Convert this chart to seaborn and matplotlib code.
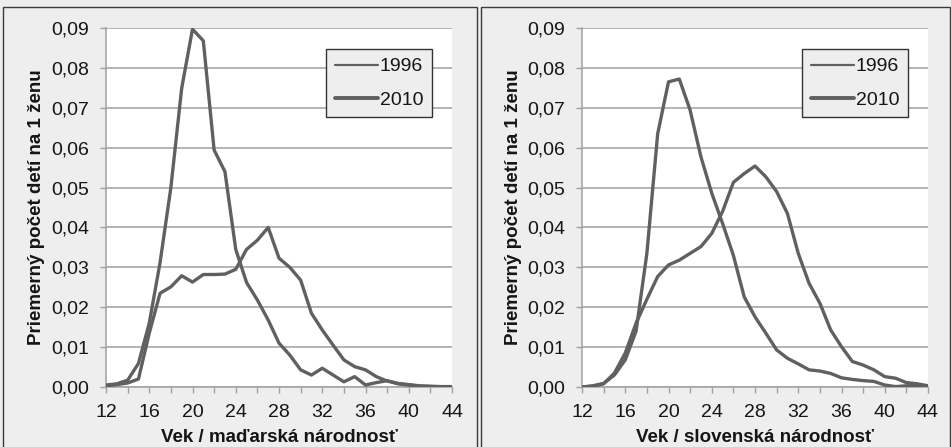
import matplotlib
matplotlib.use("Agg")
import matplotlib.pyplot as plt
from matplotlib.lines import Line2D
from matplotlib.patches import Rectangle
from matplotlib.ticker import FuncFormatter
import seaborn as sns
import pandas as pd

ages = list(range(12, 45))

hu_1996 = [0.0005, 0.0008, 0.0017, 0.0059, 0.0160, 0.0312, 0.0500, 0.0749, 0.0897, 0.0868,
           0.0594, 0.0540, 0.0345, 0.0262, 0.0218, 0.0168, 0.0110, 0.0080, 0.0043, 0.0030,
           0.0047, 0.0030, 0.0013, 0.0026, 0.0005, 0.0011, 0.0016, 0.0008, 0.0005, 0.0002,
           0.0001, 0.0000, 0.0000]
hu_2010 = [0.0003, 0.0006, 0.0010, 0.0020, 0.0135, 0.0235, 0.0251, 0.0279, 0.0263, 0.0282,
           0.0282, 0.0283, 0.0295, 0.0345, 0.0368, 0.0400, 0.0323, 0.0300, 0.0268, 0.0185,
           0.0143, 0.0105, 0.0068, 0.0051, 0.0043, 0.0026, 0.0015, 0.0009, 0.0006, 0.0003,
           0.0002, 0.0001, 0.0001]
sk_1996 = [0.0000, 0.0003, 0.0009, 0.0030, 0.0068, 0.0140, 0.0335, 0.0635, 0.0765, 0.0772,
           0.0694, 0.0577, 0.0486, 0.0410, 0.0330, 0.0226, 0.0176, 0.0135, 0.0093, 0.0072,
           0.0058, 0.0043, 0.0040, 0.0034, 0.0023, 0.0019, 0.0016, 0.0014, 0.0005, 0.0001,
           0.0003, 0.0003, 0.0002]
sk_2010 = [0.0000, 0.0002, 0.0008, 0.0035, 0.0085, 0.0160, 0.0220, 0.0277, 0.0306, 0.0318,
           0.0335, 0.0352, 0.0385, 0.0440, 0.0513, 0.0535, 0.0554, 0.0527, 0.0490, 0.0435,
           0.0335, 0.0260, 0.0210, 0.0143, 0.0101, 0.0064, 0.0055, 0.0043, 0.0026, 0.0022,
           0.0011, 0.0008, 0.0003]

years = ["1996", "2010"]
xlabels = ["Vek / maďarská národnosť", "Vek / slovenská národnosť"]
ylabel = "Priemerný počet detí na 1 ženu"

sns.set_theme(style="white")
plt.rcParams["font.family"] = ["Liberation Sans", "DejaVu Sans"]

W, H = 951, 447
PANEL_BG = "#eeeeee"
LINE = "#606060"
GRID = "#a0a0a0"
TXT = "#151515"

fig = plt.figure(figsize=(W / 100, H / 100), dpi=100)
fig.patch.set_facecolor(PANEL_BG)

def px(x0, y0, x1, y1):
    return [x0 / W, 1 - y1 / H, (x1 - x0) / W, (y1 - y0) / H]

# panel frames
for (x0, x1) in [(3, 477), (481, 950)]:
    r = Rectangle((x0 / W, -0.05), (x1 - x0) / W, 1 - 7 / H + 0.05,
                  transform=fig.transFigure, facecolor=PANEL_BG,
                  edgecolor="#3a3a3a", lw=1.0)
    r.set_zorder(-10)
    fig.add_artist(r)

datasets = [(hu_1996, hu_2010), (sk_1996, sk_2010)]
axes_left = [106, 582]

for i, ((d96, d10), axl) in enumerate(zip(datasets, axes_left)):
    ax = fig.add_axes(px(axl, 28, axl + 346, 387))
    ax.set_zorder(1)
    ax.set_facecolor("white")
    df = pd.DataFrame({
        "age": ages * 2,
        "val": d96 + d10,
        "year": [years[0]] * len(ages) + [years[1]] * len(ages),
    })
    sns.lineplot(data=df, x="age", y="val", hue="year", palette=[LINE, LINE],
                 linewidth=2.4, legend=False, ax=ax, zorder=3)
    ax.set_xlim(12, 44)
    ax.set_ylim(0, 0.09)
    ax.set_xticks(range(12, 45, 2))
    ax.set_xticklabels([str(a) if a % 4 == 0 else "" for a in range(12, 45, 2)])
    ax.set_yticks([k / 100 for k in range(10)])
    ax.yaxis.set_major_formatter(FuncFormatter(lambda v, p: f"{v:.2f}".replace(".", ",")))
    ax.grid(axis="y", color=GRID, lw=1.1)
    ax.grid(axis="x", visible=False)
    ax.set_axisbelow(True)
    for s in ["top", "right"]:
        ax.spines[s].set_visible(False)
    for s in ["left", "bottom"]:
        ax.spines[s].set_color(GRID)
        ax.spines[s].set_linewidth(1.1)
    ax.tick_params(axis="both", direction="out", length=4, width=1.0, color=GRID,
                   labelsize=14, labelcolor=TXT)
    ax.tick_params(axis="x", pad=8, bottom=True)
    ax.tick_params(axis="y", pad=8, left=True)
    ax.set_xlabel("")
    ax.set_ylabel("")

    handles = [Line2D([], [], color=LINE, lw=1.6), Line2D([], [], color=LINE, lw=2.8)]
    leg = ax.legend(handles, years, loc="upper left", bbox_to_anchor=(0.636, 0.9415),
                    frameon=True, fancybox=False, facecolor=PANEL_BG, edgecolor="#333333",
                    fontsize=14, handlelength=2.2, handletextpad=0.1, borderpad=0.45,
                    labelspacing=0.8, borderaxespad=0)
    leg.get_frame().set_linewidth(1.0)
    leg.get_frame().set_alpha(1)
    for t in leg.get_texts():
        t.set_color(TXT)

    cx = (axl + 173) / W
    fig.text(cx, 1 - 437 / H, xlabels[i], ha="center", va="center", fontsize=13.5,
             fontweight="bold", color=TXT)
    fig.text((axl - 69) / W, 1 - 207.5 / H, ylabel, rotation=90, ha="center", va="center",
             fontsize=13.5, fontweight="bold", color=TXT)

fig.savefig("out.png", dpi=100, facecolor=fig.get_facecolor())
